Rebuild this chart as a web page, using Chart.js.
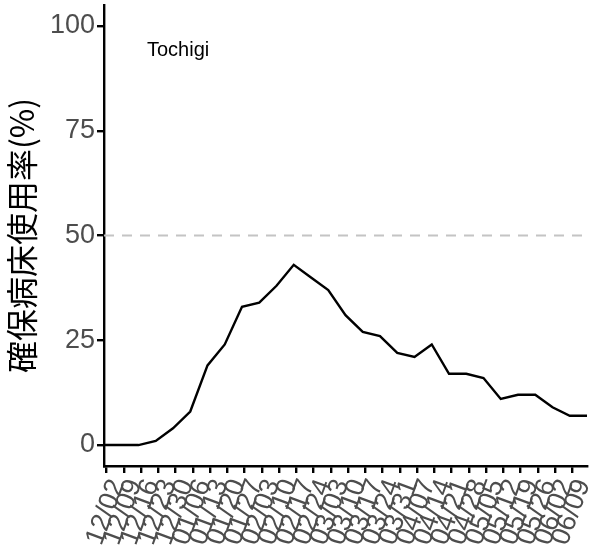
<!DOCTYPE html>
<html lang="ja">
<head>
    <meta charset="UTF-8">
    <title>Tochigi</title>
    <style>
        html, body { margin: 0; padding: 0; background: #fff; }
        #wrap { width: 596px; height: 548px; }
    </style>
</head>
<body>
    <div id="wrap"><canvas id="myChart" width="596" height="548"></canvas></div>

    <script src="https://cdnjs.cloudflare.com/ajax/libs/Chart.js/4.4.1/chart.umd.js"></script>
    <script>
        // weekly data points (MM/DD, Dec = 2020, rest = 2021)
        var dataDates = ['12/01', '12/08', '12/15', '12/22', '12/29', '01/05', '01/12', '01/19', '01/26',
            '02/02', '02/09', '02/16', '02/23', '03/02', '03/09', '03/16', '03/23', '03/30',
            '04/06', '04/13', '04/20', '04/27', '05/04', '05/11', '05/18', '05/25', '06/01', '06/08', '06/15'];
        var usageRate = [0, 0, 0, 1, 4, 8, 19, 24, 33, 34, 38, 43, 40, 37, 31, 27, 26, 22,
            21, 24, 17, 17, 16, 11, 12, 12, 9, 7, 7];

        var tickLabels = ['12/02', '12/09', '12/16', '12/23', '12/30', '01/06', '01/13', '01/20', '01/27',
            '02/03', '02/10', '02/17', '02/24', '03/03', '03/10', '03/17', '03/24', '03/31',
            '04/07', '04/14', '04/21', '04/28', '05/05', '05/12', '05/19', '05/26', '06/02', '06/09'];
        var yTicks = [0, 25, 50, 75, 100];
        var refLine = 50;
        var prefName = 'Tochigi';

        // day number counted from 2020-12-01
        function toDay(md) {
            var m = parseInt(md.slice(0, 2), 10);
            var d = parseInt(md.slice(3), 10);
            var year = m === 12 ? 2020 : 2021;
            return Math.round((Date.UTC(year, m - 1, d) - Date.UTC(2020, 11, 1)) / 86400000);
        }

        var points = dataDates.map(function (md, i) {
            return { x: toDay(md), y: usageRate[i] };
        });
        var tickDays = tickLabels.map(toDay);
        var labelByDay = {};
        tickDays.forEach(function (d, i) { labelByDay[d] = tickLabels[i]; });

        var extras = {
            id: 'extras',
            beforeDatasetsDraw: function (chart) {
                var ctx = chart.ctx, area = chart.chartArea;
                var y = chart.scales.y.getPixelForValue(refLine);
                ctx.save();
                ctx.strokeStyle = '#c4c4c4';
                ctx.lineWidth = 2;
                ctx.setLineDash([10, 8]);
                ctx.beginPath();
                ctx.moveTo(area.left, y);
                ctx.lineTo(area.right, y);
                ctx.stroke();
                ctx.restore();
            },
            afterDraw: function (chart) {
                var ctx = chart.ctx, area = chart.chartArea;
                ctx.save();
                ctx.fillStyle = '#000';
                ctx.font = '20px "Liberation Sans", Arial, sans-serif';
                ctx.textBaseline = 'alphabetic';
                ctx.fillText(prefName, area.left + 43, area.top + 51);
                ctx.restore();
            }
        };

        var tickFont = { family: '"Liberation Sans", Arial, sans-serif', size: 27 };

        function noPad(scale) {
            scale.paddingTop = 0;
            scale.paddingBottom = 0;
            scale.paddingLeft = 0;
            scale.paddingRight = 0;
        }

        new Chart(document.getElementById('myChart'), {
            type: 'line',
            data: {
                datasets: [{
                    data: points,
                    borderColor: '#000',
                    borderWidth: 2.4,
                    pointRadius: 0,
                    tension: 0,
                    fill: false
                }]
            },
            options: {
                responsive: false,
                animation: false,
                layout: { padding: { top: 5, right: 9, left: 0, bottom: 0 } },
                plugins: { legend: { display: false }, tooltip: { enabled: false } },
                scales: {
                    x: {
                        type: 'linear',
                        min: toDay(dataDates[0]),
                        max: toDay(dataDates[dataDates.length - 1]),
                        afterBuildTicks: function (scale) {
                            scale.ticks = tickDays.map(function (d) { return { value: d }; });
                        },
                        afterFit: function (scale) { scale.height = 82; noPad(scale); },
                        border: { display: true, color: '#000', width: 2.4 },
                        grid: { drawOnChartArea: false, color: '#000', lineWidth: 2.4, tickLength: 7 },
                        ticks: {
                            autoSkip: false,
                            minRotation: 70,
                            maxRotation: 70,
                            padding: 2,
                            labelOffset: 11,
                            color: '#4d4d4d',
                            font: tickFont,
                            callback: function (v) { return labelByDay[v] || ''; }
                        }
                    },
                    y: {
                        min: -5,
                        max: 105,
                        afterBuildTicks: function (scale) {
                            scale.ticks = yTicks.map(function (v) { return { value: v }; });
                        },
                        afterFit: function (scale) { scale.width = 104; noPad(scale); },
                        border: { display: true, color: '#000', width: 2.4 },
                        grid: { drawOnChartArea: false, color: '#000', lineWidth: 2.4, tickLength: 7 },
                        ticks: { padding: 2, color: '#4d4d4d', font: tickFont },
                        title: {
                            display: true,
                            text: '確保病床使用率(%)',
                            color: '#000',
                            font: { family: '"Noto Sans CJK JP", sans-serif', size: 32 },
                            padding: { top: 3, bottom: 0 }
                        }
                    }
                }
            },
            plugins: [extras]
        });
    </script>
</body>
</html>
